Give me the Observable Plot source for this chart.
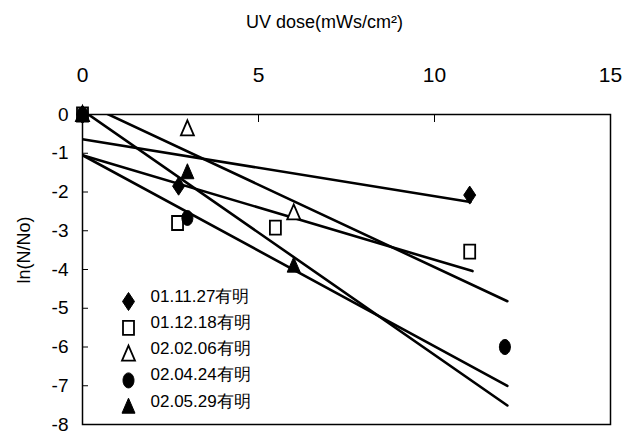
<!DOCTYPE html>
<html>
<head>
<meta charset="utf-8">
<script src="https://cdn.jsdelivr.net/npm/d3@7"></script>
<script src="https://cdn.jsdelivr.net/npm/@observablehq/plot@0.6"></script>
<style>
  html, body { margin: 0; padding: 0; background: #fff; }
  #chart svg { display: block; }
</style>
</head>
<body>
<div id="chart"></div>
<script>
// ---- data ----
const seriesNames = ["01.11.27有明", "01.12.18有明", "02.02.06有明", "02.04.24有明", "02.05.29有明"];
const seriesSymbols = ["diamond", "square", "triangle", "circle", "triangle"];
const seriesFilled = [true, false, false, true, true];

const doseDiamond = [0, 2.73, 11.0];
const lnDiamond = [0, -1.85, -2.08];
const doseSquare = [0, 2.7, 5.48, 11.0];
const lnSquare = [0, -2.8, -2.92, -3.54];
const doseOpenTri = [0, 2.98, 6.0];
const lnOpenTri = [0, -0.37, -2.54];
const doseCircle = [0, 2.98, 12.0];
const lnCircle = [0, -2.67, -6.0];
const doseFilledTri = [0, 2.98, 6.0];
const lnFilledTri = [0, -1.49, -3.9];

// trend lines: intercept, slope, x end
const trendIntercept = [-0.64, -1.05, 0.315, -1.05, 0.107];
const trendSlope = [-0.147, -0.27, -0.4254, -0.493, -0.631];
const trendXEnd = [11.02, 11.08, 12.07, 12.07, 12.07];

const xTicks = [0, 5, 10, 15];
const yTicks = [0, -1, -2, -3, -4, -5, -6, -7, -8];
const xTitle = "UV dose(mWs/cm²)";
const yTitle = "ln(N/No)";

// ---- build tables ----
const pointSets = [
  [doseDiamond, lnDiamond], [doseSquare, lnSquare], [doseOpenTri, lnOpenTri],
  [doseCircle, lnCircle], [doseFilledTri, lnFilledTri]
];
const points = [];
pointSets.forEach(([xs, ys], s) => xs.forEach((x, i) => points.push({s, x, y: ys[i]})));
const trends = [];
trendIntercept.forEach((b, s) => {
  trends.push({s, x: 0, y: b});
  trends.push({s, x: trendXEnd[s], y: b + trendSlope[s] * trendXEnd[s]});
});

// custom, slightly tall marker shapes
function sym(kind) {
  return {
    draw(ctx) {
      if (kind === "square") { ctx.rect(-5.5, -7, 11, 14); }
      else if (kind === "triangle") { ctx.moveTo(0, -8.5); ctx.lineTo(6.5, 6.5); ctx.lineTo(-6.5, 6.5); ctx.closePath(); }
      else if (kind === "diamond") { ctx.moveTo(0, -9); ctx.lineTo(6, 0); ctx.lineTo(0, 9); ctx.lineTo(-6, 0); ctx.closePath(); }
      else { // ellipse
        const rx = 5.5, ry = 7.5, k = 0.5523;
        ctx.moveTo(rx, 0);
        ctx.bezierCurveTo(rx, ry * k, rx * k, ry, 0, ry);
        ctx.bezierCurveTo(-rx * k, ry, -rx, ry * k, -rx, 0);
        ctx.bezierCurveTo(-rx, -ry * k, -rx * k, -ry, 0, -ry);
        ctx.bezierCurveTo(rx * k, -ry, rx, -ry * k, rx, 0);
        ctx.closePath();
      }
    }
  };
}

const font = "'Liberation Sans Narrow', 'Liberation Sans', Arial, sans-serif";
const marks = [];
marks.push(Plot.frame({stroke: "#000", strokeWidth: 1.5}));
marks.push(Plot.line(trends, {x: "x", y: "y", z: "s", stroke: "#000", strokeWidth: 2.6, clip: true}));
for (let s = 0; s < seriesNames.length; s++) {
  const filled = seriesFilled[s];
  marks.push(Plot.dot(points.filter(d => d.s === s), {
    x: "x", y: "y", symbol: sym(seriesSymbols[s]),
    fill: filled ? "#000" : "#fff", stroke: "#000", strokeWidth: filled ? 1 : 1.8
  }));
  // legend entry inside the frame
  marks.push(Plot.dot([seriesNames[s]], {
    frameAnchor: "bottom-left", dx: 46, dy: -123 + s * 26.3, symbol: sym(seriesSymbols[s]),
    fill: filled ? "#000" : "#fff", stroke: "#000", strokeWidth: filled ? 1 : 1.8
  }));
  marks.push(Plot.text([seriesNames[s]], {
    frameAnchor: "bottom-left", dx: 68, dy: -123 + s * 26.3, text: d => d,
    textAnchor: "start", fontSize: 17, fill: "#000"
  }));
}
marks.push(Plot.axisX(xTicks, {anchor: "top", tickSize: -7, tickPadding: 40, fontSize: 21, label: null, stroke: "#000"}));
marks.push(Plot.axisY(yTicks, {anchor: "left", tickSize: -6, tickPadding: 20, fontSize: 19, label: null, stroke: "#000", tickFormat: d => d === 0 ? "0" : "-" + Math.abs(d)}));
marks.push(Plot.text([xTitle], {frameAnchor: "top", dx: -22, dy: -99, text: d => d, fontSize: 18, fill: "#000"}));
marks.push(Plot.text([yTitle], {frameAnchor: "left", dx: -58, dy: 14, rotate: -90, text: d => d, fontSize: 18, fill: "#000"}));

const chart = Plot.plot({
  width: 635,
  height: 436,
  marginTop: 114,
  marginLeft: 82,
  marginRight: 25,
  marginBottom: 12,
  style: {fontFamily: font, color: "#000", background: "#fff"},
  x: {domain: [0, 15]},
  y: {domain: [-8, 0]},
  marks
});
document.getElementById("chart").appendChild(chart);
</script>
</body>
</html>
